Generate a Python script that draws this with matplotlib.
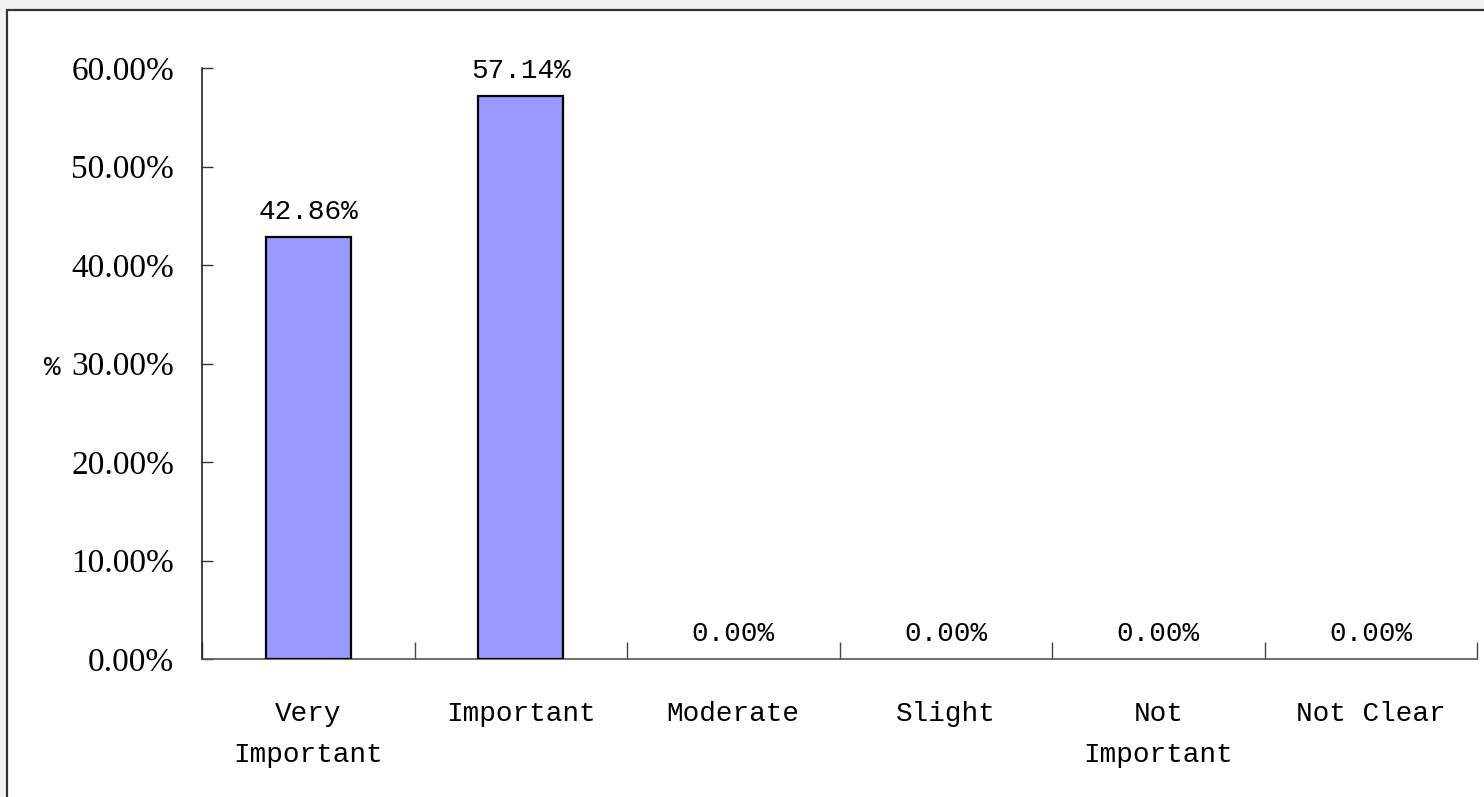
import numpy as np
import matplotlib.pyplot as plt
from matplotlib.patches import Rectangle
from matplotlib.ticker import FuncFormatter

# survey responses: share of each rating
categories = ["Very\nImportant", "Important", "Moderate", "Slight", "Not\nImportant", "Not Clear"]
shares = [42.86, 57.14, 0.00, 0.00, 0.00, 0.00]
yticks = [0, 10, 20, 30, 40, 50, 60]

mono = "Liberation Mono"
serif = "Liberation Serif"

W, H = 1484, 797
fig = plt.figure(figsize=(W / 100, H / 100), dpi=100, facecolor="#f3f1f1")

# white chart area with a dark frame, kept behind the axes
fig.patches.append(Rectangle((7 / W, -0.05), 1.1, 1 - 10 / H + 0.05,
                             transform=fig.transFigure, facecolor="white",
                             edgecolor="#333333", linewidth=1.6, zorder=-5))

ax = fig.add_axes([202 / W, 1 - 659 / H, (1477 - 202) / W, (659 - 68) / H])
ax.set_facecolor("none")

x = np.arange(len(categories))
edge_w = [1.6 if v > 0 else 0 for v in shares]
ax.bar(x, shares, width=0.4, color="#9999ff", edgecolor="black", linewidth=edge_w, zorder=3)

for xi, v in zip(x, shares):
    ax.annotate(f"{v:.2f}%", (xi, v), xytext=(0, 18), textcoords="offset points",
                ha="center", va="center", fontsize=20, family=mono)

ax.set_xlim(-0.5, len(categories) - 0.5)
ax.set_ylim(0, 60)

ax.set_yticks(yticks)
ax.yaxis.set_major_formatter(FuncFormatter(lambda v, p: f"{v:.2f}%"))
ax.tick_params(axis="y", direction="in", length=8, width=1, pad=20,
               labelsize=24, color="#333333")
for lbl in ax.get_yticklabels():
    lbl.set_family(serif)

ax.set_xticks(x)
ax.set_xticklabels(categories, family=mono, fontsize=20, linespacing=1.75)
ax.tick_params(axis="x", which="major", length=0, pad=30)
ax.set_xticks(np.arange(len(categories) + 1) - 0.5, minor=True)
ax.tick_params(axis="x", which="minor", direction="in", length=12, width=1, color="#444444")

for side in ["top", "right"]:
    ax.spines[side].set_visible(False)
ax.spines["left"].set_color("#222222")
ax.spines["left"].set_linewidth(1.2)
ax.spines["bottom"].set_color("#555555")
ax.spines["bottom"].set_linewidth(1.2)

fig.text(52 / W, 1 - 368 / H, "%", family=mono, fontsize=20, ha="center", va="center")

plt.savefig("out.png", dpi=100, facecolor=fig.get_facecolor())
